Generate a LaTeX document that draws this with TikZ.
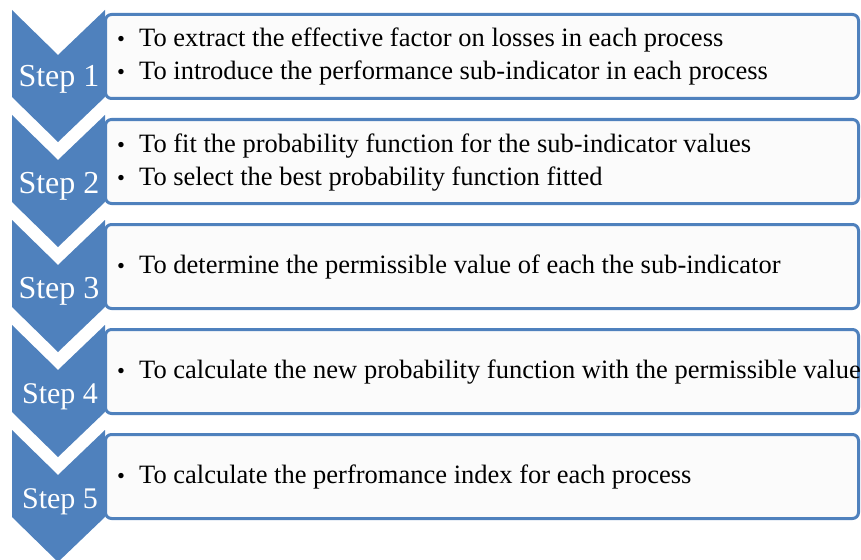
\documentclass[tikz,border=0pt]{standalone}
\usepackage{fontspec}
\setmainfont{Liberation Serif}
\usetikzlibrary{positioning}
\definecolor{stepblue}{RGB}{79,129,189}
\definecolor{boxgray}{RGB}{251,251,251}
\newcommand{\itembullet}{\makebox[23pt][l]{\hspace{1pt}\scalebox{0.85}{\textbullet}}}

\begin{document}
\begin{tikzpicture}[x=1pt, y=-1pt,
  stepbox/.style={draw=stepblue, line width=3pt, fill=boxgray, rounded corners=6pt,
    minimum width=753pt, minimum height=84pt, anchor=north west, inner sep=0pt},
  steplabel/.style={text=white, anchor=base, inner sep=0pt, font=\fontsize{32}{32}\selectfont},
  item/.style={anchor=base west, inner sep=0pt, font=\fontsize{26.5}{26.5}\selectfont}]
                        \useasboundingbox (0,0) rectangle (861,559);
                        % boxes
                        \node[stepbox] (box1) at (104,13) {};
                        \node[stepbox] (box2) at (104,118) {};
                        \node[stepbox] (box3) at (104,223) {};
                        \node[stepbox] (box4) at (104,328) {};
                        \node[stepbox] (box5) at (104,433) {};
                        % chevrons
                        \fill[stepblue]
                        (12,10) -- (58,55) -- (105,10) -- (105,97) -- (58,142) -- (12,97) -- cycle
                        (12,115) -- (58,160) -- (105,115) -- (105,202) -- (58,247) -- (12,202) -- cycle
                        (12,220) -- (58,265) -- (105,220) -- (105,307) -- (58,352) -- (12,307) -- cycle
                        (12,325) -- (58,370) -- (105,325) -- (105,412) -- (58,457) -- (12,412) -- cycle
                        (12,430) -- (58,475) -- (105,430) -- (105,517) -- (58,562) -- (12,517) -- cycle;
                        \node[steplabel] (step1) at (59,87) {Step 1};
                        \node[steplabel] (step2) at (59,193) {Step 2};
                        \node[steplabel] (step3) at (59,298) {Step 3};
                        \node[steplabel, font=\fontsize{30}{30}\selectfont] (step4) at (60,403) {Step 4};
                        \node[steplabel, font=\fontsize{30}{30}\selectfont] (step5) at (60,508) {Step 5};
                        % items
                        \node[item] (item1a) at (116,47) {\itembullet To extract the effective factor on losses in each process};
                        \node[item] (item1b) at (116,80) {\itembullet To introduce the performance sub-indicator in each process};
                        \node[item] (item2a) at (116,152) {\itembullet To fit the probability function for the sub-indicator values};
                        \node[item] (item2b) at (116,185) {\itembullet To select the best probability function fitted};
                        \node[item] (item3) at (116,273) {\itembullet To determine the permissible value of each the sub-indicator};
                        \node[item] (item4) at (116,378) {\itembullet To calculate the new probability function with the permissible value};
                        \node[item] (item5) at (116,483) {\itembullet To calculate the perfromance index for each process};
                    \end{tikzpicture}
\end{document}
